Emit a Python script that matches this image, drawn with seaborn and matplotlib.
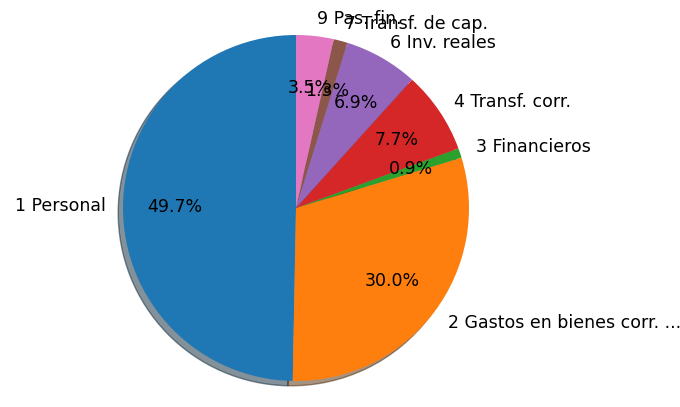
import matplotlib
matplotlib.use("Agg")
import matplotlib.pyplot as plt
import seaborn as sns

# budget chapters and their share of total spending (%)
labels = ["1 Personal", "2 Gastos en bienes corr. ...", "3 Financieros",
          "4 Transf. corr.", "6 Inv. reales", "7 Transf. de cap.", "9 Pas. fin."]
shares = [49.7, 30.0, 0.9, 7.7, 6.9, 1.3, 3.5]

colors = sns.color_palette("tab10", len(labels))

fig = plt.figure(figsize=(6.8, 4.07), dpi=100)
ax = fig.add_axes([0, 0, 1, 1])

ax.pie(shares, labels=labels, colors=colors, autopct="%1.1f%%",
       pctdistance=0.7, labeldistance=1.1, startangle=90, shadow=True,
       textprops={"fontsize": 12.5, "color": "black"})

# place the pie where it sits in the original frame
r_px = 173
ax.set_aspect("auto")
ax.set_xlim(-296 / r_px, 384 / r_px)
ax.set_ylim(-199 / r_px, 208 / r_px)
ax.axis("off")

plt.savefig("out.png", dpi=100)
